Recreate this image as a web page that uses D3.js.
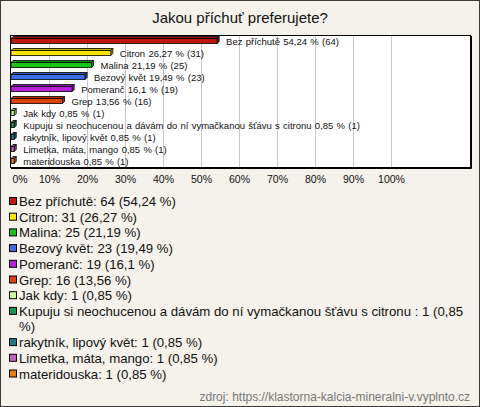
<!DOCTYPE html>
<html>
<head>
<meta charset="utf-8">
<script src="https://cdn.jsdelivr.net/npm/d3@7"></script>
<style>
  body { margin: 0; background: #fff; }
  svg { display: block; font-family: "Liberation Sans", Arial, sans-serif; }
</style>
</head>
<body>
<svg id="chart" width="480" height="407"></svg>
<script>
// answers, in chart order
var categories = ["Bez příchutě", "Citron", "Malina", "Bezový květ", "Pomeranč", "Grep", "Jak kdy",
    "Kupuju si neochucenou a dávám do ní vymačkanou šťávu s citronu ", "rakytník, lipový květ",
    "Limetka, máta, mango", "materidouska"];
var counts = [64, 31, 25, 23, 19, 16, 1, 1, 1, 1, 1];
var percents = [54.24, 26.27, 21.19, 19.49, 16.1, 13.56, 0.85, 0.85, 0.85, 0.85, 0.85];
var colors = ["#c0170c", "#ffe500", "#18c418", "#3b6ee6", "#b820dc", "#e0400e", "#ccff99",
    "#189858", "#1c7a8c", "#c462c6", "#e87d10"];
var ticks = [0, 10, 20, 30, 40, 50, 60, 70, 80, 90, 100];

function fmt(p) { return String(p).replace('.', ','); }

var svg = d3.select('#chart');

svg.append('rect').attr('x', 0.5).attr('y', 0.5).attr('width', 479).attr('height', 406)
    .attr('fill', '#f4f2ea').attr('stroke', '#3a3a3a');

svg.append('text').attr('x', 240).attr('y', 23).attr('text-anchor', 'middle')
    .attr('font-size', 15).attr('fill', '#111').text('Jakou příchuť preferujete?');

var plot = {left: 10, top: 35, right: 470, bottom: 167};

svg.append('rect').attr('x', plot.left + 0.5).attr('y', plot.top + 0.5)
    .attr('width', plot.right - plot.left).attr('height', plot.bottom - plot.top)
    .attr('fill', '#fff').attr('stroke', '#000');
// darker right/bottom edge
svg.append('path')
    .attr('d', 'M' + (plot.right + 1.5) + ',' + (plot.top + 1) + 'V' + (plot.bottom + 1.5) + 'H' + (plot.left + 1))
    .attr('fill', 'none').attr('stroke', '#000');

var x = d3.scaleLinear().domain([0, 100]).range([11, 391]);
var y = d3.scaleBand().domain(categories).range([plot.top, plot.bottom]);

var grid = svg.append('g');
grid.selectAll('line').data(ticks.slice(1)).enter().append('line')
    .attr('x1', function(d) { return x(d) + 0.5; })
    .attr('x2', function(d) { return x(d) + 0.5; })
    .attr('y1', plot.top + 1).attr('y2', plot.bottom)
    .attr('stroke', '#c8c8c8');

var xAxis = d3.axisBottom(x).tickValues(ticks).tickSize(0).tickPadding(0)
    .tickFormat(function(d) { return d + '%'; });

var ax = svg.append('g').attr('transform', 'translate(0,' + (plot.bottom + 16) + ')').call(xAxis);
ax.select('.domain').remove();
ax.selectAll('.tick text').attr('font-size', 10.5).attr('fill', '#111')
    .attr('font-family', '"Liberation Sans", Arial, sans-serif').attr('dy', 0);
ax.select('.tick text').attr('text-anchor', 'start').attr('x', 1);

var d3d = 2, h = 5;
var bars = svg.append('g');
categories.forEach(function(c, i) {
    var x0 = x(0), x1 = x(percents[i]);
    var yc = y(c) + y.bandwidth() / 2;
    var top = yc - 2.5;
    var col = d3.color(colors[i]);
    var dark = col.darker(0.8);
    var g = bars.append('g').attr('stroke', '#000').attr('stroke-width', 0.8).attr('stroke-linejoin', 'round');
    g.append('path')
        .attr('d', 'M' + x0 + ',' + top + 'L' + (x0 + d3d) + ',' + (top - d3d) + 'L' + (x1 + d3d) + ',' + (top - d3d) + 'L' + x1 + ',' + top + 'Z')
        .attr('fill', dark);
    g.append('path')
        .attr('d', 'M' + x1 + ',' + top + 'L' + (x1 + d3d) + ',' + (top - d3d) + 'L' + (x1 + d3d) + ',' + (top + h - d3d) + 'L' + x1 + ',' + (top + h) + 'Z')
        .attr('fill', dark);
    g.append('rect').attr('x', x0).attr('y', top).attr('width', x1 - x0).attr('height', h)
        .attr('fill', col);
    bars.append('text').attr('x', x1 + 9).attr('y', yc + 3.5)
        .attr('font-size', 9.5).attr('word-spacing', 0.6).attr('fill', '#111')
        .text(c.trim() + ' ' + fmt(percents[i]) + ' % (' + counts[i] + ')');
});

// legend
var legend = svg.append('g');
var ly = 206, maxW = 456;
categories.forEach(function(c, i) {
    legend.append('rect').attr('x', 9.5).attr('y', ly - 8.5).attr('width', 7).attr('height', 7)
        .attr('fill', colors[i]).attr('stroke', '#000');
    var t = legend.append('text').attr('x', 19).attr('y', ly).attr('font-size', 13.2).attr('fill', '#111');
    var words = (c + ': ' + counts[i] + ' (' + fmt(percents[i]) + ' %)').split(' ');
    var line = [];
    var ts = t.append('tspan').attr('x', 19);
    words.forEach(function(w) {
        line.push(w);
        ts.text(line.join(' '));
        if (ts.node().getComputedTextLength() > maxW && line.length > 1) {
            line.pop();
            ts.text(line.join(' '));
            line = [w];
            ly += 15.5;
            ts = t.append('tspan').attr('x', 19).attr('y', ly).text(w);
        }
    });
    ly += 15.7;
});

svg.append('text').attr('x', 470).attr('y', 401).attr('text-anchor', 'end')
    .attr('font-size', 12).attr('fill', '#777')
    .text('zdroj: https://klastorna-kalcia-mineralni-v.vyplnto.cz');
</script>
</body>
</html>
